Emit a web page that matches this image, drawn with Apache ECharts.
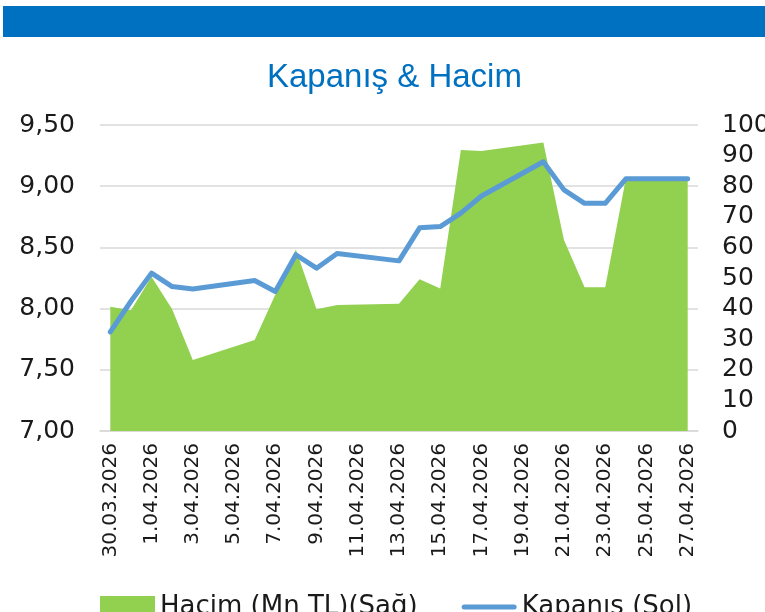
<!DOCTYPE html>
<html>
<head>
<meta charset="utf-8">
<script src="https://cdn.jsdelivr.net/npm/echarts@6/dist/echarts.min.js"></script>
<style>
  html, body { margin: 0; padding: 0; background: #fff; }
  #chart { width: 765px; height: 612px; }
</style>
</head>
<body>
<div id="chart"></div>
<script>
  // tarihler (hafta sonlari bos)
  var dates = ['30.03.2026','31.03.2026','1.04.2026','2.04.2026','3.04.2026','4.04.2026','5.04.2026',
    '6.04.2026','7.04.2026','8.04.2026','9.04.2026','10.04.2026','11.04.2026','12.04.2026',
    '13.04.2026','14.04.2026','15.04.2026','16.04.2026','17.04.2026','18.04.2026','19.04.2026',
    '20.04.2026','21.04.2026','22.04.2026','23.04.2026','24.04.2026','25.04.2026','26.04.2026','27.04.2026'];
  var kapanis = [7.81, 8.06, 8.29, 8.18, 8.16, null, null,
    8.23, 8.14, 8.44, 8.33, 8.45, null, null,
    8.39, 8.66, 8.67, 8.78, 8.92, null, null,
    9.20, 8.97, 8.86, 8.86, 9.06, null, null, 9.06];
  var hacim = [40.6, 39.5, 50.4, 39.8, 23.2, null, null,
    29.7, 44.5, 59.3, 39.8, 41.2, null, null,
    41.6, 49.6, 46.6, 91.8, 91.5, null, null,
    94.3, 62.4, 47.0, 47.0, 82.4, null, null, 82.4];
  var leftTicks = { min: 7, max: 9.5, step: 0.5 };
  var rightTicks = { min: 0, max: 100, step: 10 };

  var chart = echarts.init(document.getElementById('chart'));
  var font = 'DejaVu Sans';
  chart.setOption({
    animation: false,
    textStyle: { fontFamily: font, color: '#1a1a1a' },
    graphic: [{
      type: 'rect',
      shape: { x: 3, y: 6, width: 762, height: 31 },
      style: { fill: '#0070C0' }
    }],
    title: {
      text: 'Kapanış & Hacim',
      left: 262,
      top: 56,
      textStyle: { fontFamily: 'Liberation Sans', fontSize: 33, fontWeight: 'normal', color: '#0070C0' }
    },
    legend: {
      left: 95,
      top: 589,
      itemWidth: 55,
      itemHeight: 22,
      itemGap: 44,
      textStyle: { fontFamily: font, fontSize: 26, color: '#1a1a1a' },
      data: [
        { name: 'Hacim (Mn TL)(Sağ)', icon: 'rect', itemStyle: { color: '#92D050' } },
        {
          name: 'Kapanış (Sol)',
          icon: 'path://M2.5,0L52.5,0A2.5,2.5,0,0,1,52.5,5L2.5,5A2.5,2.5,0,0,1,2.5,0Z',
          itemStyle: { color: '#5B9BD5' }
        }
      ]
    },
    grid: { left: 100, right: 67, top: 125, bottom: 181, containLabel: false, outerBoundsMode: 'none' },
    xAxis: {
      type: 'category',
      data: dates,
      boundaryGap: true,
      axisLine: { lineStyle: { color: '#d9d9d9', width: 1.5 } },
      axisTick: { interval: 1, length: 6, lineStyle: { color: '#d9d9d9', width: 1.5 } },
      axisLabel: { interval: 1, rotate: 90, margin: 12, fontSize: 20, color: '#1a1a1a' }
    },
    yAxis: [{
      type: 'value',
      min: leftTicks.min, max: leftTicks.max, interval: leftTicks.step,
      axisLine: { show: false },
      axisTick: { show: false },
      splitLine: { lineStyle: { color: '#d9d9d9', width: 1.5 } },
      axisLabel: {
        margin: 25, fontSize: 25, color: '#1a1a1a',
        formatter: function (v) { return v.toFixed(2).replace('.', ','); }
      }
    }, {
      type: 'value',
      position: 'right',
      min: rightTicks.min, max: rightTicks.max, interval: rightTicks.step,
      axisLine: { show: false },
      axisTick: { show: false },
      splitLine: { show: false },
      axisLabel: { margin: 24, fontSize: 25, color: '#1a1a1a' }
    }],
    series: [{
      name: 'Hacim (Mn TL)(Sağ)',
      type: 'line',
      yAxisIndex: 1,
      data: hacim,
      connectNulls: true,
      symbol: 'none',
      lineStyle: { width: 0 },
      itemStyle: { color: '#92D050' },
      areaStyle: { color: '#92D050', opacity: 1 },
      z: 1
    }, {
      name: 'Kapanış (Sol)',
      type: 'line',
      yAxisIndex: 0,
      data: kapanis,
      connectNulls: true,
      symbol: 'none',
      lineStyle: { color: '#5B9BD5', width: 5, cap: 'round', join: 'round' },
      itemStyle: { color: '#5B9BD5' },
      z: 3
    }]
  });
</script>
</body>
</html>
